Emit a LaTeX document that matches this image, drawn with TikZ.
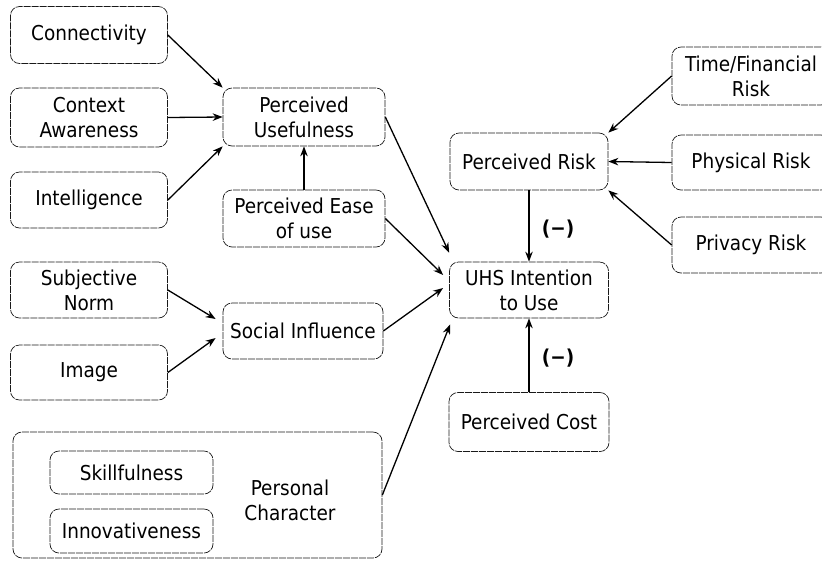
\documentclass[tikz,border=0pt]{standalone}
\usepackage{fontspec}
\setmainfont{DejaVu Sans Condensed}
\usetikzlibrary{arrows.meta,calc}
\begin{document}
\begin{tikzpicture}[x=1pt,y=-1pt,
  box/.style={draw=black!90, line width=0.7pt, dash pattern=on 7pt off 1pt,
    rounded corners=9pt, align=center, inner sep=0pt,
    font=\fontsize{20.5}{25}\selectfont},
  conn/.style={line width=1.3pt, -{Stealth[length=10pt,width=7.5pt]}},
  lbl/.style={font=\fontsize{20.5}{25}\selectfont\bfseries}
]
\useasboundingbox (0,0) rectangle (822,566);
% left column
\node[box, minimum width=157pt, minimum height=57pt] (conn) at (89,35) {Connectivity};
\node[box, minimum width=157pt, minimum height=59pt] (ctx) at (89,117.5) {Context\\Awareness};
\node[box, minimum width=157pt, minimum height=56pt] (intel) at (89,200) {Intelligence};
\node[box, minimum width=157pt, minimum height=56pt] (sn) at (89,290) {Subjective\\Norm};
\node[box, minimum width=157pt, minimum height=55pt] (img) at (89,372.5) {Image};
% middle column
\node[box, minimum width=162pt, minimum height=58pt] (pu) at (304,117) {Perceived\\Usefulness};
\node[box, minimum width=162pt, minimum height=57pt] (peou) at (304,218.5) {Perceived Ease\\of use};
\node[box, minimum width=160pt, minimum height=56pt] (si) at (303,331) {Social Influence};
% personal character group
\node[box, minimum width=369pt, minimum height=126pt] (pers) at (197.5,495) {};
\node[box, minimum width=163pt, minimum height=43pt] (skill) at (131.5,472.5) {Skillfulness};
\node[box, minimum width=163pt, minimum height=44pt] (innov) at (131.5,531) {Innovativeness};
\node[align=center, inner sep=0pt, font=\fontsize{20.5}{25}\selectfont] (perstext) at (290,500) {Personal\\Character};
% right part
\node[box, minimum width=158pt, minimum height=57pt] (pr) at (529,161.5) {Perceived Risk};
\node[box, minimum width=159pt, minimum height=56pt] (uhs) at (529,290) {UHS Intention\\to Use};
\node[box, minimum width=160pt, minimum height=59pt] (pc) at (529,422) {Perceived Cost};
\node[box, minimum width=158pt, minimum height=58pt] (tfr) at (751,76) {Time/Financial\\Risk};
\node[box, minimum width=158pt, minimum height=55pt] (phys) at (751,162.5) {Physical Risk};
\node[box, minimum width=158pt, minimum height=56pt] (priv) at (751,245) {Privacy Risk};
% tip coordinates
\coordinate (tPU) at ($(uhs.north west)+(0,-9)$);
\coordinate (tPEOU) at ($(uhs.west)+(-6,-15)$);
\coordinate (tSI) at ($(uhs.west)+(-6,-2)$);
\coordinate (tPC) at ($(uhs.south west)+(1,6)$);
\coordinate (tSN) at ($(si.west)+(-7,-12)$);
\coordinate (tIMG) at ($(si.west)+(-7,7)$);
% connectors
\draw[conn] (conn.east) -- (pu.north west);
\draw[conn] (ctx.east) -- (pu.west);
\draw[conn] (intel.east) -- (pu.south west);
\draw[conn] (peou.north) -- (pu.south);
\draw[conn] (pu.east) -- (tPU);
\draw[conn] (peou.east) -- (tPEOU);
\draw[conn] (si.east) -- (tSI);
\draw[conn] (pers.east) -- (tPC);
\draw[conn] (sn.east) -- (tSN);
\draw[conn] (img.east) -- (tIMG);
\draw[conn] (pr.south) -- node[lbl, right=9pt, yshift=-3pt] (m1) {(−)} (uhs.north);
\draw[conn] (pc.north) -- node[lbl, right=9pt, yshift=-3pt] (m2) {(−)} (uhs.south);
\draw[conn] (tfr.west) -- (pr.north east);
\draw[conn] (phys.west) -- (pr.east);
\draw[conn] (priv.west) -- (pr.south east);
\end{tikzpicture}
\end{document}
